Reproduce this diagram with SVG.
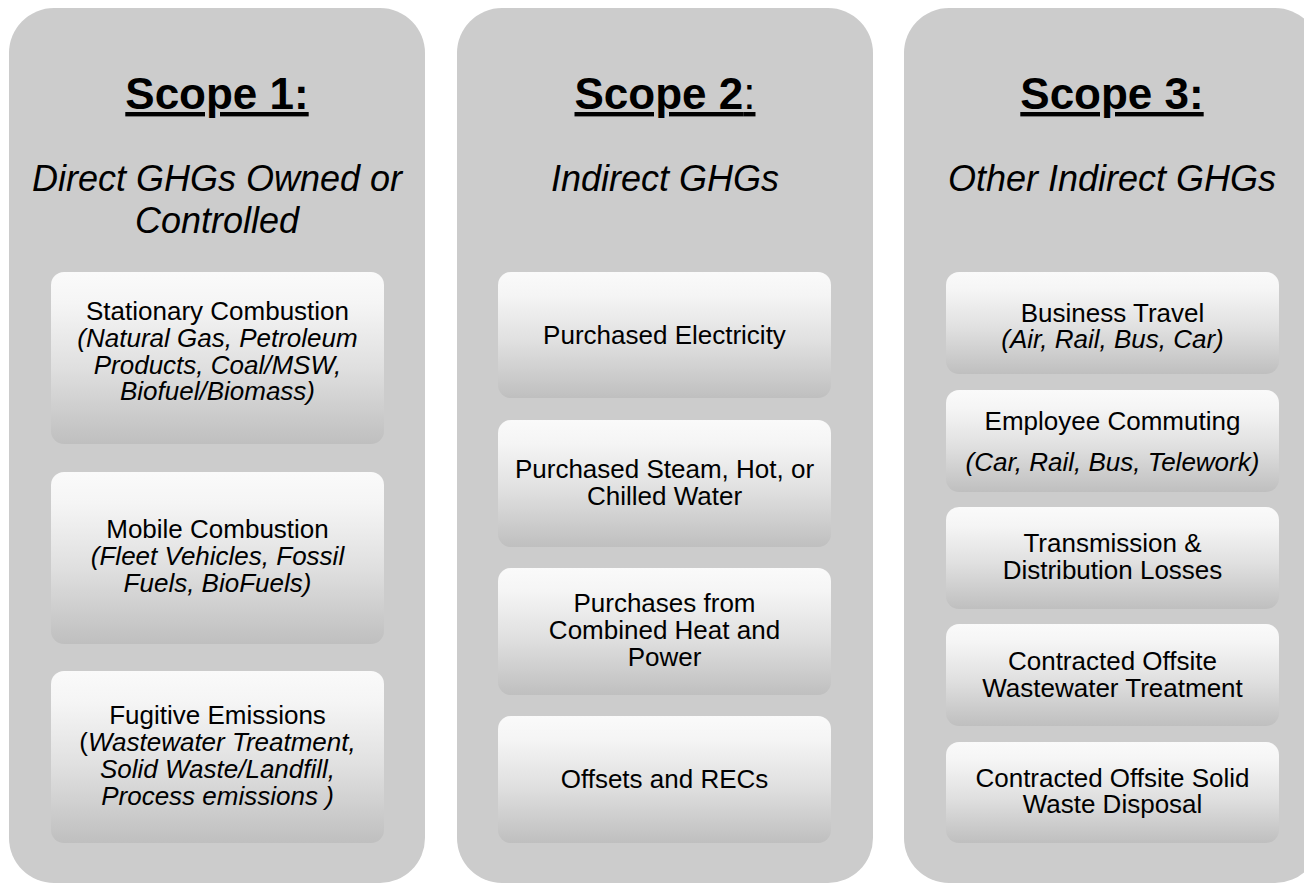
<svg xmlns="http://www.w3.org/2000/svg" width="1304" height="885" viewBox="0 0 1304 885">
<defs>
<linearGradient id="boxg" x1="0" y1="0" x2="0" y2="1">
<stop offset="0" stop-color="#fafafa"/>
<stop offset="0.18" stop-color="#f5f5f5"/>
<stop offset="0.55" stop-color="#e0e0e0"/>
<stop offset="1" stop-color="#bfbfbf"/>
</linearGradient>
</defs>
<style>
.panel{fill:#cccccc}
.box{fill:url(#boxg)}
text{font-family:"Liberation Sans",Arial,sans-serif;fill:#000;text-anchor:middle}
.title{font-size:44px;font-weight:bold;text-decoration:underline}
.sub{font-size:36px;font-style:italic}
.t{font-size:26px}
.i{font-style:italic}
.r{font-weight:normal}
</style>
<rect width="1304" height="885" fill="#ffffff"/>
<g id="connectors"></g>
<g id="scope1">
<rect class="panel" x="9" y="8" width="416" height="875" rx="45"/>
<text class="title" x="217" y="109">Scope 1:</text>
<text class="sub" x="217" y="191">Direct GHGs Owned or</text>
<text class="sub" x="217" y="233">Controlled</text>
</g>
<g id="s1-stationary">
<rect class="box" x="51" y="272" width="333" height="172" rx="13"/>
<text class="t" x="217.5" y="320">Stationary Combustion</text>
<text class="t i" x="217.5" y="347">(Natural Gas, Petroleum</text>
<text class="t i" x="217.5" y="373.5">Products, Coal/MSW,</text>
<text class="t i" x="217.5" y="400">Biofuel/Biomass)</text>
</g>
<g id="s1-mobile">
<rect class="box" x="51" y="472" width="333" height="172" rx="13"/>
<text class="t" x="217.5" y="538">Mobile Combustion</text>
<text class="t i" x="217.5" y="565">(Fleet Vehicles, Fossil</text>
<text class="t i" x="217.5" y="592">Fuels, BioFuels)</text>
</g>
<g id="s1-fugitive">
<rect class="box" x="51" y="671" width="333" height="172" rx="13"/>
<text class="t" x="217.5" y="724">Fugitive Emissions</text>
<text class="t" x="217.5" y="751">(<tspan class="i">Wastewater Treatment,</tspan></text>
<text class="t i" x="217.5" y="778">Solid Waste/Landfill,</text>
<text class="t i" x="217.5" y="805">Process emissions )</text>
</g>
<g id="scope2">
<rect class="panel" x="457" y="8" width="416" height="875" rx="45"/>
<text class="title" x="665" y="109">Scope 2<tspan class="r">:</tspan></text>
<text class="sub" x="665" y="191">Indirect GHGs</text>
</g>
<g id="s2-electricity">
<rect class="box" x="498" y="272" width="333" height="126" rx="13"/>
<text class="t" x="664.5" y="344">Purchased Electricity</text>
</g>
<g id="s2-steam">
<rect class="box" x="498" y="420" width="333" height="127" rx="13"/>
<text class="t" x="664.5" y="478">Purchased Steam, Hot, or</text>
<text class="t" x="664.5" y="505">Chilled Water</text>
</g>
<g id="s2-chp">
<rect class="box" x="498" y="568" width="333" height="127" rx="13"/>
<text class="t" x="664.5" y="612">Purchases from</text>
<text class="t" x="664.5" y="639">Combined Heat and</text>
<text class="t" x="664.5" y="666">Power</text>
</g>
<g id="s2-offsets">
<rect class="box" x="498" y="716" width="333" height="127" rx="13"/>
<text class="t" x="664.5" y="788">Offsets and RECs</text>
</g>
<g id="scope3">
<rect class="panel" x="904" y="8" width="416" height="875" rx="45"/>
<text class="title" x="1112" y="109">Scope 3:</text>
<text class="sub" x="1112" y="191">Other Indirect GHGs</text>
</g>
<g id="s3-travel">
<rect class="box" x="946" y="272" width="333" height="102" rx="13"/>
<text class="t" x="1112.5" y="322">Business Travel</text>
<text class="t i" x="1112.5" y="348">(Air, Rail, Bus, Car)</text>
</g>
<g id="s3-commuting">
<rect class="box" x="946" y="390" width="333" height="102" rx="13"/>
<text class="t" x="1112.5" y="430">Employee Commuting</text>
<text class="t i" x="1112.5" y="471">(Car, Rail, Bus, Telework)</text>
</g>
<g id="s3-td">
<rect class="box" x="946" y="507" width="333" height="102" rx="13"/>
<text class="t" x="1112.5" y="552">Transmission &amp;</text>
<text class="t" x="1112.5" y="579">Distribution Losses</text>
</g>
<g id="s3-wastewater">
<rect class="box" x="946" y="624" width="333" height="102" rx="13"/>
<text class="t" x="1112.5" y="670">Contracted Offsite</text>
<text class="t" x="1112.5" y="697">Wastewater Treatment</text>
</g>
<g id="s3-solidwaste">
<rect class="box" x="946" y="742" width="333" height="101" rx="13"/>
<text class="t" x="1112.5" y="787">Contracted Offsite Solid</text>
<text class="t" x="1112.5" y="813">Waste Disposal</text>
</g>
</svg>
